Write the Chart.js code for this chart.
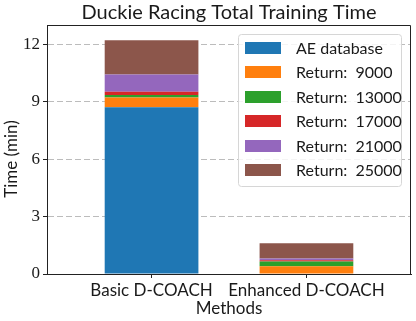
<!DOCTYPE html>
<html>
<head>
<meta charset="utf-8">
<script src="https://cdn.jsdelivr.net/npm/chart.js@4.4.1/dist/chart.umd.min.js"></script>
<style>
html,body{margin:0;padding:0;background:#fff;}
canvas{display:block;}
</style>
</head>
<body>
<canvas id="c" width="416" height="321"></canvas>
<script>
const categories = ['Basic D-COACH', 'Enhanced D-COACH'];
const seriesLabels = ['AE database', 'Return:  9000', 'Return:  13000', 'Return:  17000', 'Return:  21000', 'Return:  25000'];
const aeDatabase = [8.71, 0];
const return9000 = [0.51, 0.40];
const return13000 = [0.12, 0.25];
const return17000 = [0.18, 0.07];
const return21000 = [0.90, 0.09];
const return25000 = [1.79, 0.80];
const yTicks = [0, 3, 6, 9, 12];
const chartTitle = 'Duckie Racing Total Training Time';
const xTitle = 'Methods';
const yTitle = 'Time (min)';

const seriesValues = [aeDatabase, return9000, return13000, return17000, return21000, return25000];
const colors = ['#1f77b4', '#ff7f0e', '#2ca02c', '#d62728', '#9467bd', '#8c564b'];
const SANS = 'Lato, "Liberation Sans", sans-serif';
const SERIF = '"Liberation Serif", "DejaVu Serif", serif';
const TXT = '#1a1a1a';

const datasets = seriesValues.map((vals, i) => ({
  label: seriesLabels[i],
  data: vals.map((v, j) => ({x: j, y: v})),
  backgroundColor: colors[i],
  borderWidth: 0,
  categoryPercentage: 1,
  barPercentage: 0.605
}));

const framePlugin = {
  id: 'frame',
  afterDraw(chart) {
    const {ctx, chartArea: a} = chart;
    ctx.save();
    // top & right spines
    ctx.strokeStyle = '#222';
    ctx.lineWidth = 1;
    ctx.beginPath();
    ctx.moveTo(Math.round(a.left) + 0.5, Math.round(a.top) + 0.5);
    ctx.lineTo(Math.round(a.right) - 0.5, Math.round(a.top) + 0.5);
    ctx.lineTo(Math.round(a.right) - 0.5, Math.round(a.bottom) + 0.5);
    ctx.stroke();
    // title
    ctx.fillStyle = TXT;
    ctx.font = '20px ' + SANS;
    ctx.textAlign = 'center';
    ctx.textBaseline = 'middle';
    ctx.fillText(chartTitle, (a.left + a.right) / 2, 12.5);
    // y title
    ctx.font = '17px ' + SANS;
    ctx.translate(11.5, 159);
    ctx.rotate(-Math.PI / 2);
    ctx.fillText(yTitle, 0, 0);
    ctx.restore();

    // legend
    const lx = 238.5, ly = 34.5, lw = 163, lh = 152, r = 3;
    ctx.save();
    ctx.beginPath();
    ctx.moveTo(lx + r, ly);
    ctx.arcTo(lx + lw, ly, lx + lw, ly + lh, r);
    ctx.arcTo(lx + lw, ly + lh, lx, ly + lh, r);
    ctx.arcTo(lx, ly + lh, lx, ly, r);
    ctx.arcTo(lx, ly, lx + lw, ly, r);
    ctx.closePath();
    ctx.fillStyle = 'rgba(255,255,255,0.85)';
    ctx.fill();
    ctx.strokeStyle = '#d6d6d6';
    ctx.lineWidth = 1;
    ctx.stroke();
    ctx.font = '16px ' + SANS;
    ctx.textAlign = 'left';
    ctx.textBaseline = 'middle';
    chart.data.datasets.forEach((ds, i) => {
      const cy = 47.6 + i * 24.5;
      ctx.fillStyle = ds.backgroundColor;
      ctx.fillRect(245, Math.round(cy - 6), 36, 12);
      ctx.fillStyle = TXT;
      ctx.fillText(ds.label, 296, cy + 1);
    });
    ctx.restore();
  }
};

new Chart(document.getElementById('c'), {
  type: 'bar',
  data: { datasets },
  plugins: [framePlugin],
  options: {
    responsive: false,
    animation: false,
    devicePixelRatio: 1,
    layout: { padding: { left: 0, right: 5, top: 25, bottom: 0 } },
    plugins: {
      legend: { display: false },
      tooltip: { enabled: false },
      title: { display: false }
    },
    scales: {
      x: {
        type: 'linear',
        stacked: true,
        offset: false,
        min: -0.675,
        max: 1.675,
        afterBuildTicks: s => { s.ticks = categories.map((c, i) => ({ value: i })); },
        afterFit: s => { s.height = 47; },
        ticks: {
          callback: v => categories[v],
          color: TXT,
          font: { family: SANS, size: 17 },
          padding: 2,
          maxRotation: 0,
          autoSkip: false
        },
        grid: { offset: false, drawOnChartArea: false, tickLength: 4, tickColor: '#222', tickWidth: 1 },
        border: { display: true, color: '#222', width: 1 },
        title: {
          display: true,
          text: xTitle,
          color: TXT,
          font: { family: SANS, size: 17 },
          padding: { top: 0, bottom: 2 }
        }
      },
      y: {
        stacked: true,
        min: 0,
        max: 13,
        z: 1,
        afterBuildTicks: s => { s.ticks = yTicks.map(v => ({ value: v })); },
        afterFit: s => { s.width = 47; },
        ticks: {
          color: TXT,
          font: { family: SERIF, size: 17 },
          padding: 3
        },
        grid: {
          color: c => (c.tick && c.tick.value === 0) ? 'rgba(0,0,0,0)' : 'rgba(176,176,176,0.85)',
          lineWidth: 1,
          tickLength: 4,
          tickColor: '#222',
          tickWidth: 1
        },
        border: { display: true, color: '#222', width: 1, dash: [6, 3] }
      }
    }
  }
});
</script>
</body>
</html>
